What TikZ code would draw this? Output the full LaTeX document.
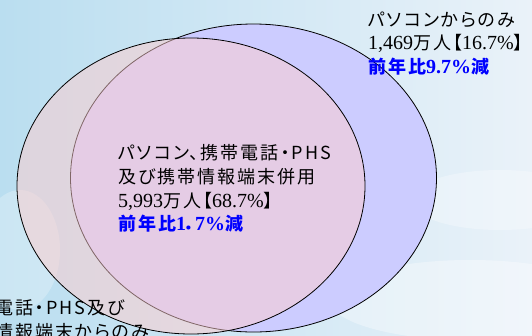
\documentclass[tikz,border=0pt]{standalone}
\usepackage{fontspec}
\setmainfont{Liberation Serif}
\newfontfamily\jpfont{Noto Sans CJK JP}[RawFeature=+palt, LetterSpace=11]
\definecolor{bgleft}{RGB}{186,222,240}
\definecolor{bgright}{RGB}{234,242,249}
\definecolor{pcfill}{RGB}{204,204,255}
\definecolor{phfill}{RGB}{255,204,204}
\definecolor{txtblue}{RGB}{0,0,255}
\newcommand\jt[1]{{\fontsize{18}{22}\selectfont\jpfont #1}}
\tikzset{
  lbl/.style={anchor=base west, inner sep=0pt, text=black, font=\fontsize{20}{24}\selectfont},
  bluelbl/.style={anchor=base west, inner sep=0pt, text=txtblue, font=\fontsize{20}{24}\selectfont\bfseries},
  setline/.style={draw=black, line width=0.8pt}
}
\begin{document}
\begin{tikzpicture}[x=1pt,y=-1pt]
\useasboundingbox (0,0) rectangle (532,335);
\clip (0,0) rectangle (532,335);
% background
\shade[left color=bgleft, right color=bgright] (0,0) rectangle (532,335);
\fill[white, opacity=0.35] (470,300) ellipse (140 and 40);
\fill[white, opacity=0.3] (500,200) ellipse (90 and 30);
\fill[white, opacity=0.25] (20,250) ellipse (40 and 60);
% sets
\fill[pcfill] (253.5,178) ellipse (183 and 154);
\draw[setline] (253.5,178) ellipse (183 and 154);
\fill[phfill, fill opacity=0.5] (191,186) ellipse (174 and 148);
\draw[setline] (191,186) ellipse (174 and 148);
% top right labels
\node[lbl] (pc1) at (368,26.5) {\jt{パソコンからのみ}};
\node[lbl] (pc2) at (368,49.5) {1,469\jt{万人【}16.7\%\jt{】}};
\node[bluelbl] (pc3) at (368,73) {\jt{\bfseries 前年比}9.7\%\jt{\bfseries 減}};
% centre labels
\node[lbl] (c1) at (118,159.5) {\jt{パソコン、携帯電話・PHS}};
\node[lbl] (c2) at (118,183.5) {\jt{及び携帯情報端末併用}};
\node[lbl] (c3) at (118,207.5) {5,993\jt{万人【}68.7\%\jt{】}};
\node[bluelbl] (c4) at (118,230.5) {\jt{\bfseries 前年比}1\jt{\bfseries ．}7\%\jt{\bfseries 減}};
% bottom left labels (cut by the frame)
\node[lbl] (m1) at (-5,314.5) {\jt{電話・PHS及び}};
\node[lbl] (m2) at (-5,338.5) {\jt{情報端末からのみ}};
\end{tikzpicture}
\end{document}
